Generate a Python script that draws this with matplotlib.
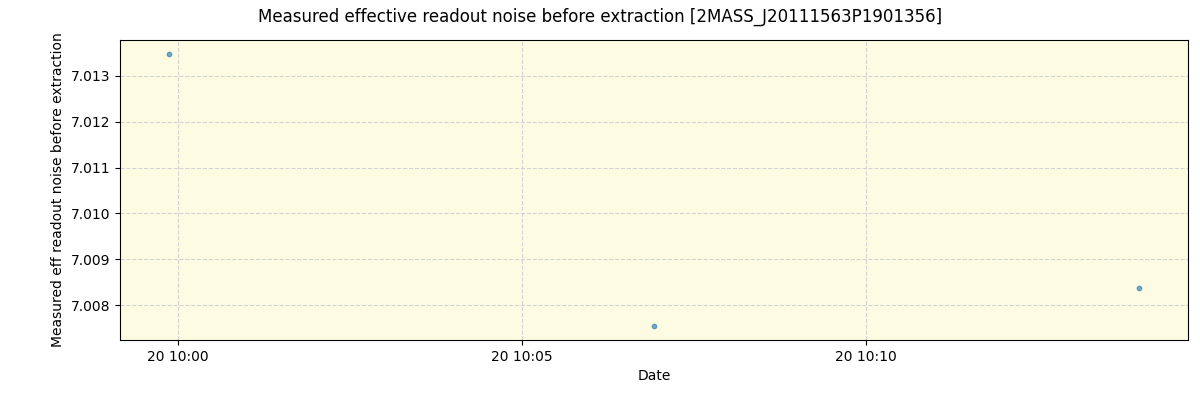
import matplotlib
matplotlib.use('Agg')
import matplotlib.pyplot as plt
import matplotlib.dates as mdates
import pandas as pd

# measurement times and values
times = ['2023-08-20 09:59:52', '2023-08-20 10:06:55', '2023-08-20 10:13:58']
noise = [7.01348, 7.00754, 7.00837]

dates = pd.to_datetime(times)

fig, ax = plt.subplots(figsize=(12, 4), dpi=100)
fig.subplots_adjust(left=0.1, right=0.99, top=0.9, bottom=0.15)
ax.set_facecolor('#fdfce3')
ax.scatter(dates, noise, s=10, color='#1f77b4', alpha=0.6)
ax.grid(True, linestyle='--', color='lightgray')
ax.set_axisbelow(True)
ax.xaxis.set_major_locator(mdates.MinuteLocator(byminute=[0, 5, 10, 15, 20, 25, 30, 35, 40, 45, 50, 55]))
ax.xaxis.set_major_formatter(mdates.DateFormatter('%d %H:%M'))
ax.set_xlabel('Date')
ax.set_ylabel('Measured eff readout noise before extraction')
fig.suptitle('Measured effective readout noise before extraction [2MASS_J20111563P1901356]')
plt.savefig('out.png')
